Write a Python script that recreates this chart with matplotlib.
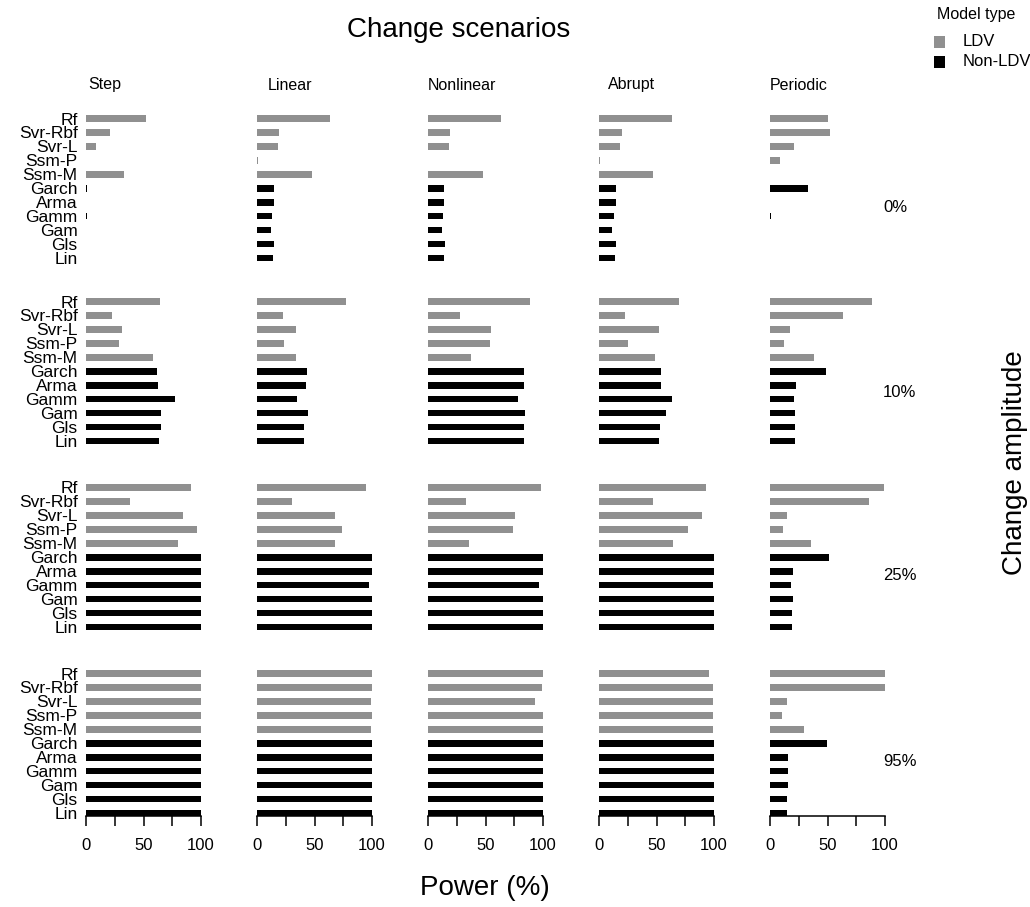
import matplotlib.pyplot as plt
import matplotlib.patches as ptchs
import numpy as np

plt.rcParams["font.family"] = ["Liberation Sans", "DejaVu Sans"]
plt.rcParams["font.size"] = 12

models = ["Rf", "Svr-Rbf", "Svr-L", "Ssm-P", "Ssm-M",
          "Garch", "Arma", "Gamm", "Gam", "Gls", "Lin"]
model_type = ["LDV"] * 5 + ["Non-LDV"] * 6
scenarios = ["Step", "Linear", "Nonlinear", "Abrupt", "Periodic"]
amplitudes = ["0%", "10%", "25%", "95%"]

# power (%) per scenario, models in the order above
power_0 = [
    [52, 21, 8.5, 0, 33, 0.5, 0, 0.5, 0, 0, 0],
    [63.5, 19.5, 18.5, 0.5, 47.5, 14.5, 14.5, 13, 12, 15, 14.2],
    [63.5, 19.5, 18.3, 0, 47.5, 14, 14, 12.7, 11.8, 14.5, 14],
    [63.5, 19.7, 18.5, 0.5, 47, 14.5, 14.5, 12.7, 11.5, 14.8, 14.2],
    [50.4, 52.5, 21, 8.4, 0, 33.3, 0, 0.5, 0, 0, 0],
]
power_10 = [
    [64.5, 23, 31, 29, 58, 62, 62.3, 77.5, 65.5, 65, 63.6],
    [77.4, 22.5, 34, 23.5, 34, 43.7, 42.8, 34.8, 44.6, 41, 40.6],
    [88.3, 28, 55, 54, 37, 83.7, 83.5, 78, 84.3, 83.7, 83.7],
    [69.9, 23, 52.5, 25.2, 49, 54, 53.7, 63.2, 58.3, 53, 52.5],
    [88.4, 63.8, 17, 12.5, 38, 48.4, 23, 21, 22, 22, 22],
]
power_25 = [
    [91.5, 38.3, 84, 96.5, 80, 100, 100, 100, 100, 100, 100],
    [95, 30.5, 68, 73.5, 68, 100, 100, 97, 100, 100, 100],
    [98, 33.4, 76, 73.7, 36, 100, 100, 96.8, 100, 100, 100],
    [93.3, 47, 89.8, 77.4, 64, 100, 100, 98.8, 100, 100, 100],
    [99, 86.4, 15, 11.6, 35.7, 51.3, 19.7, 18.3, 19.7, 18.8, 18.8],
]
power_95 = [
    [100, 100, 100, 100, 100, 100, 100, 100, 100, 100, 100],
    [100, 100, 99, 100, 99, 100, 100, 100, 100, 100, 100],
    [100, 99, 93, 100, 100, 100, 100, 100, 100, 100, 100],
    [96, 99.4, 99.4, 99.5, 99.5, 100, 100, 100, 100, 100, 100],
    [100, 100, 15, 10.4, 29.3, 49.6, 15.4, 15.6, 15.6, 15, 15],
]
power_rows = [power_0, power_10, power_25, power_95]

COLORS = {"LDV": "#909090", "Non-LDV": "black"}
W, H = 1030, 907
COL_LEFT = [86, 257, 428, 599, 770]
COL_W = 115
ROW_LIN_Y = [258, 441, 627, 813]
UNIT = 13.95
Y_LO, Y_HI = -0.25, 10.4


def px_axes(fig, left, top, width, height):
    return fig.add_axes([left / W, 1 - (top + height) / H, width / W, height / H])


def plot_panel(ax, values, show_labels, show_xaxis):
    ypos = np.arange(len(models))[::-1]
    colors = [COLORS[t] for t in model_type]
    ax.barh(ypos, values, height=0.48, color=colors, linewidth=0)
    ax.set_xlim(0, 100)
    ax.set_ylim(Y_LO, Y_HI)
    ax.spines[['right', 'top', 'left']].set_visible(False)
    ax.set_facecolor('none')
    if show_labels:
        ax.set_yticks(ypos, models)
        ax.tick_params(axis='y', length=0, pad=6, labelsize=12.5)
    else:
        ax.set_yticks([])
    if show_xaxis:
        ax.spines['bottom'].set_linewidth(1.1)
        ax.spines['bottom'].set_bounds(0, 100)
        ax.set_xticks([0, 25, 50, 75, 100], ["0", "", "50", "", "100"])
        ax.tick_params(axis='x', direction='out', length=7.5, width=1.1, pad=8, labelsize=12)
    else:
        ax.spines['bottom'].set_visible(False)
        ax.set_xticks([])


fig = plt.figure(figsize=(W / 100, H / 100), dpi=100)

for r, rows in enumerate(power_rows):
    top = ROW_LIN_Y[r] - Y_HI * UNIT
    height = (Y_HI - Y_LO) * UNIT
    for c, vals in enumerate(rows):
        ax = px_axes(fig, COL_LEFT[c], top, COL_W, height)
        plot_panel(ax, vals, c == 0, r == len(power_rows) - 1)

# column titles
title_x = [88, 268, 428, 608, 770]
for x, name in zip(title_x, scenarios):
    fig.text(x / W, 1 - 85 / H, name, ha='left', va='center', fontsize=11.5)

# row labels
row_label_y = [207, 392, 576, 761]
for y, amp in zip(row_label_y, amplitudes):
    fig.text(883 / W, 1 - y / H, amp, ha='left', va='center', fontsize=12)

fig.text(459 / W, 1 - 30 / H, "Change scenarios", ha='center', va='center', fontsize=20)
fig.text(485 / W, 1 - 888 / H, "Power (%)", ha='center', va='center', fontsize=20)
fig.text(1015 / W, 1 - 463 / H, "Change amplitude", ha='center', va='center',
         rotation=90, fontsize=20)

# legend
fig.text(937 / W, 1 - 15 / H, "Model type", ha='left', va='center', fontsize=11.5)
for i, t in enumerate(["LDV", "Non-LDV"]):
    yc = 42 + 20 * i
    fig.patches.append(ptchs.Rectangle(((934) / W, 1 - (yc + 5.5) / H), 11 / W, 11 / H,
                                       transform=fig.transFigure, facecolor=COLORS[t],
                                       edgecolor='none'))
    fig.text(963 / W, 1 - yc / H, t, ha='left', va='center', fontsize=12)

fig.savefig("out.png", dpi=100)
plt.close(fig)
